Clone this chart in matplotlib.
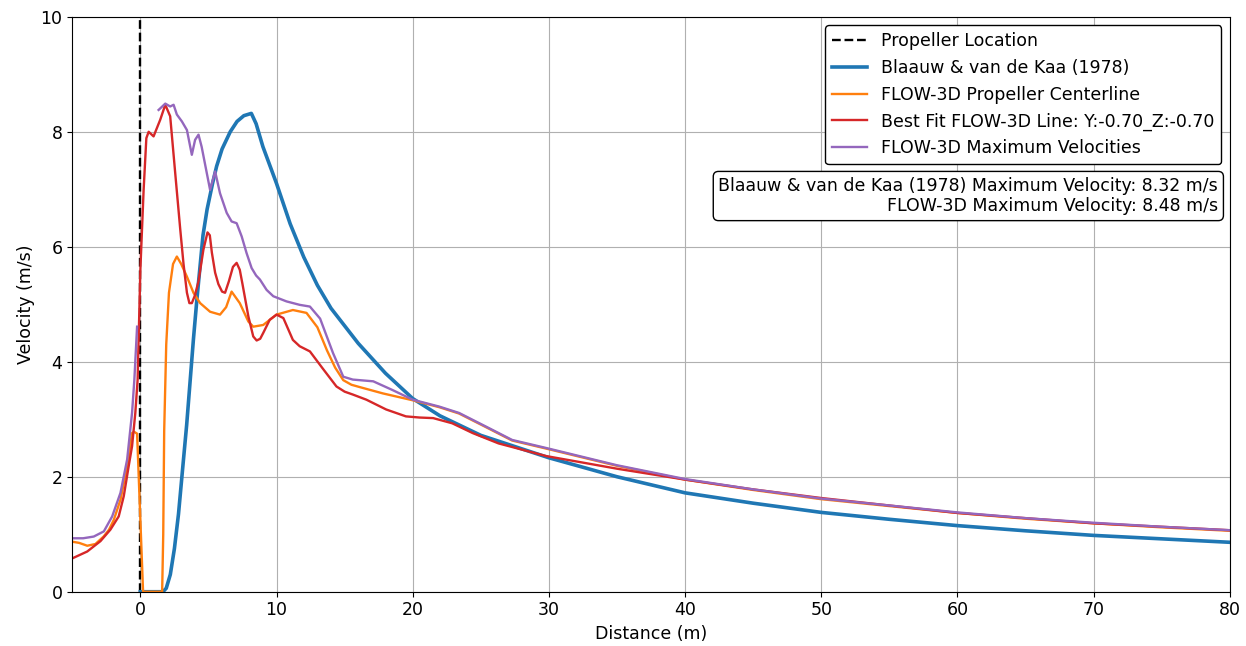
import numpy as np
import matplotlib
matplotlib.use('Agg')
from matplotlib import pyplot as plt

plt.rcParams['font.size'] = 12.5

# Blaauw & van de Kaa (1978)
bk_x = [0, 1.66, 1.9, 2.2, 2.5, 2.8, 3.05, 3.4, 3.9, 4.15, 4.6, 4.9, 5.3, 5.6, 6.0,
        6.6, 7.1, 7.6, 8.15, 8.5, 9.0, 10.0, 11.0, 12.0, 13.0, 14.0, 16.0, 18.0,
        20.0, 22.0, 25.0, 30.0, 35.0, 40.0, 45.0, 50.0, 55.0, 60.0, 65.0, 70.0,
        75.0, 80.0]
bk_v = [0, 0, 0.06, 0.3, 0.75, 1.35, 2.0, 2.9, 4.4, 5.08, 6.2, 6.65, 7.1, 7.4, 7.7,
        8.0, 8.18, 8.28, 8.32, 8.14, 7.74, 7.1, 6.4, 5.82, 5.33, 4.93, 4.32, 3.8,
        3.36, 3.06, 2.72, 2.33, 2.0, 1.72, 1.54, 1.38, 1.26, 1.15, 1.06, 0.98,
        0.92, 0.86]

# FLOW-3D propeller centerline
fc_x = [-5, -4.5, -3.9, -3.3, -2.7, -2.3, -1.95, -1.46, -0.97, -0.61, -0.45, -0.24,
        0.2, 1.6, 1.68, 1.75, 1.9, 2.1, 2.4, 2.68, 3.0, 3.42, 3.9, 4.39, 5.12, 5.85,
        6.3, 6.7, 7.3, 7.93, 8.29, 9.02, 10.0, 11.2, 12.2, 13.0, 13.7, 14.3, 14.9,
        15.5, 16.1, 17.8, 20.0, 21.95, 23.4, 25.4, 27.3, 29.8, 35, 40, 45, 50, 55,
        60, 65, 70, 75, 80]
fc_v = [0.87, 0.85, 0.8, 0.83, 0.96, 1.08, 1.25, 1.6, 2.18, 2.76, 2.78, 2.75,
        0, 0, 1.0, 2.8, 4.3, 5.2, 5.7, 5.83, 5.7, 5.48, 5.2, 5.02, 4.87, 4.82,
        4.95, 5.22, 5.02, 4.7, 4.61, 4.64, 4.82, 4.9, 4.85, 4.6, 4.2, 3.9, 3.68,
        3.6, 3.56, 3.45, 3.33, 3.21, 3.1, 2.86, 2.63, 2.49, 2.19, 1.95, 1.77, 1.61,
        1.49, 1.37, 1.27, 1.19, 1.12, 1.06]

# best fit FLOW-3D line
bf_x = [-5, -3.9, -2.93, -2.2, -1.59, -1.22, -0.86, -0.61, -0.37, -0.2, 0.0, 0.24,
        0.44, 0.61, 0.97, 1.46, 1.83, 2.19, 2.56, 2.93, 3.17, 3.42, 3.6, 3.78, 4.0,
        4.27, 4.63, 4.93, 5.1, 5.25, 5.49, 5.73, 6.0, 6.22, 6.5, 6.8, 7.07, 7.3,
        7.5, 7.93, 8.29, 8.54, 8.8, 9.02, 9.5, 10.0, 10.5, 11.2, 11.7, 12.45, 13.4,
        14.4, 15.0, 15.6, 16.6, 18.05, 19.5, 20.5, 21.5, 22.9, 24.4, 26.3, 29.8,
        35, 40, 45, 50, 55, 60, 65, 70, 75, 80]
bf_v = [0.58, 0.7, 0.88, 1.08, 1.31, 1.66, 2.18, 2.53, 3.11, 3.69, 5.6, 6.99,
        7.89, 8.0, 7.92, 8.21, 8.47, 8.27, 7.28, 6.3, 5.7, 5.2, 5.02, 5.02, 5.15,
        5.4, 5.95, 6.25, 6.2, 5.9, 5.55, 5.35, 5.22, 5.2, 5.4, 5.65, 5.72, 5.6,
        5.35, 4.79, 4.44, 4.37, 4.4, 4.5, 4.73, 4.82, 4.76, 4.38, 4.27, 4.18, 3.88,
        3.57, 3.48, 3.43, 3.34, 3.17, 3.05, 3.03, 3.02, 2.93, 2.76, 2.58, 2.36,
        2.14, 1.95, 1.78, 1.63, 1.5, 1.37, 1.28, 1.19, 1.13, 1.07]

# FLOW-3D maximum velocities (gap near the propeller)
mx_x = [-5, -4.2, -3.42, -2.68, -2.07, -1.46, -0.97, -0.61, -0.44, -0.24, np.nan,
        1.34, 1.83, 2.19, 2.44, 2.68, 3.05, 3.42, 3.78, 4.02, 4.27, 4.5, 4.88, 5.12,
        5.49, 5.85, 6.34, 6.7, 7.07, 7.44, 7.8, 8.17, 8.5, 8.78, 9.27, 9.76, 10.73,
        11.7, 12.45, 13.2, 14.15, 14.9, 15.6, 17.1, 18.5, 20.0, 21.95, 23.4, 25.4,
        27.3, 29.8, 35, 40, 45, 50, 55, 60, 65, 70, 75, 80]
mx_v = [0.93, 0.93, 0.96, 1.05, 1.31, 1.72, 2.3, 3.11, 3.69, 4.61, np.nan,
        8.38, 8.49, 8.44, 8.47, 8.3, 8.18, 8.03, 7.6, 7.86, 7.95, 7.74, 7.28, 6.99,
        7.31, 6.93, 6.59, 6.44, 6.41, 6.18, 5.89, 5.63, 5.5, 5.43, 5.25, 5.14, 5.05,
        4.99, 4.96, 4.75, 4.15, 3.74, 3.69, 3.66, 3.51, 3.34, 3.22, 3.11, 2.87,
        2.64, 2.5, 2.2, 1.96, 1.78, 1.62, 1.5, 1.38, 1.28, 1.2, 1.13, 1.07]

bk_max = 8.32
fl_max = 8.48

fig = plt.figure(figsize=(12.46, 6.46), dpi=100)
ax = fig.add_axes([0.058, 0.084, 0.929, 0.89])

ax.axvline(0, color='black', linestyle='--', linewidth=1.7, label='Propeller Location')
ax.plot(bk_x, bk_v, color='C0', linewidth=2.6, label='Blaauw & van de Kaa (1978)')
ax.plot(fc_x, fc_v, color='C1', linewidth=1.7, label='FLOW-3D Propeller Centerline')
ax.plot(bf_x, bf_v, color='C3', linewidth=1.7, label='Best Fit FLOW-3D Line: Y:-0.70_Z:-0.70')
ax.plot(mx_x, mx_v, color='C4', linewidth=1.7, label='FLOW-3D Maximum Velocities')

ax.set_xlim(-5, 80)
ax.set_ylim(0, 10)
ax.set_xlabel('Distance (m)')
ax.set_ylabel('Velocity (m/s)')
ax.grid(True)

leg = ax.legend(loc='upper right', framealpha=1, edgecolor='black')

ax.text(0.99, 0.722,
        f'Blaauw & van de Kaa (1978) Maximum Velocity: {bk_max:.2f} m/s\n'
        f'FLOW-3D Maximum Velocity: {fl_max:.2f} m/s',
        transform=ax.transAxes, ha='right', va='top', multialignment='right',
        bbox=dict(boxstyle='round', facecolor='white', edgecolor='black'))

fig.savefig('out.png', dpi=100)
